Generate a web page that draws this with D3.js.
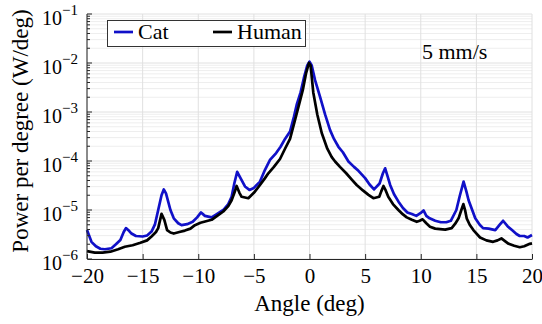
<!DOCTYPE html>
<html>
<head>
<meta charset="utf-8">
<script src="https://cdn.jsdelivr.net/npm/d3@7"></script>
<style>
    body { margin: 0; background: #fff; }
    svg { display: block; font-family: "Liberation Serif", "Times New Roman", serif; }
</style>
</head>
<body>
<svg id="powerChart"></svg>
<script>
var catAngle = [-20, -19.6, -19.2, -18.8, -18.4, -17.8, -17.4, -17.0, -16.7, -16.5, -16.2, -16.0, -15.6, -15.0, -14.6, -14.2, -13.9, -13.6, -13.3, -13.1,
    -12.9, -12.5, -12.2, -11.8, -11.5, -11.0, -10.5, -10.1, -9.75, -9.4, -8.8, -8.3, -7.75, -7.3, -7.0, -6.75, -6.5, -6.2, -5.8, -5.4,
    -5.0, -4.45, -4.0, -3.55, -3.0, -2.6, -2.2, -1.75, -1.4, -1.15, -0.8, -0.5, -0.2, 0, 0.2, 0.5, 0.95, 1.4, 1.85, 2.2,
    2.6, 3.0, 3.5, 4.0, 4.4, 5.0, 5.4, 5.8, 6.3, 6.6, 6.8, 7.0, 7.25, 7.6, 8.0, 8.4, 8.8, 9.2, 9.6, 10.0,
    10.25, 10.5, 10.8, 11.3, 11.8, 12.3, 12.7, 13.2, 13.5, 13.85, 14.1, 14.3, 14.9, 15.3, 15.6, 16.1, 16.7, 17.1, 17.4, 17.8,
    18.2, 18.6, 18.9, 19.3, 19.6, 20];
var catPower = [3.89e-6, 2.24e-6, 1.82e-6, 1.62e-6, 1.58e-6, 1.66e-6, 2.0e-6, 2.45e-6, 3.55e-6, 4.27e-6, 3.72e-6, 3.31e-6, 2.95e-6, 2.88e-6, 3.02e-6, 3.63e-6, 5.01e-6, 1.0e-5, 2.0e-5, 2.63e-5,
    2.19e-5, 1.0e-5, 6.76e-6, 5.37e-6, 4.90e-6, 5.13e-6, 5.75e-6, 7.08e-6, 8.91e-6, 7.59e-6, 7.08e-6, 8.32e-6, 1.0e-5, 1.32e-5, 1.86e-5, 3.55e-5, 6.03e-5, 4.47e-5, 3.02e-5, 2.57e-5,
    2.82e-5, 3.80e-5, 6.61e-5, 1.05e-4, 1.45e-4, 1.95e-4, 2.82e-4, 3.98e-4, 7.94e-4, 1.41e-3, 2.51e-3, 5.01e-3, 8.91e-3, 1.07e-2, 8.91e-3, 4.47e-3, 2.04e-3, 8.91e-4, 4.27e-4, 2.82e-4,
    1.95e-4, 1.51e-4, 9.77e-5, 7.59e-5, 6.31e-5, 4.47e-5, 3.31e-5, 2.63e-5, 3.47e-5, 5.62e-5, 7.08e-5, 5.01e-5, 3.24e-5, 2.09e-5, 1.48e-5, 1.10e-5, 8.91e-6, 8.32e-6, 7.59e-6, 8.71e-6,
    9.77e-6, 7.59e-6, 6.76e-6, 6.03e-6, 5.62e-6, 5.62e-6, 6.03e-6, 1.0e-5, 1.91e-5, 3.80e-5, 2.40e-5, 1.58e-5, 6.76e-6, 5.01e-6, 4.27e-6, 4.17e-6, 3.89e-6, 5.01e-6, 6.03e-6, 4.68e-6,
    3.89e-6, 3.24e-6, 2.95e-6, 2.95e-6, 2.75e-6, 3.09e-6];

var humanAngle = [-20, -19.3, -18.6, -17.9, -17.2, -16.6, -15.9, -15.2, -14.6, -14.2, -13.8, -13.6, -13.3, -13.05, -12.8, -12.5, -12.2, -11.7, -11.2, -10.7,
    -10.3, -9.8, -9.3, -8.8, -8.3, -7.75, -7.3, -7.0, -6.75, -6.55, -6.3, -6.1, -5.5, -5.0, -4.45, -4.0, -3.7, -3.2, -2.65, -2.2,
    -1.75, -1.4, -1.0, -0.6, -0.3, -0.05, 0.1, 0.34, 0.7, 1.1, 1.6, 2.0, 2.3, 2.74, 3.3, 3.8, 4.24, 4.8, 5.3, 5.74,
    6.27, 6.45, 6.65, 6.85, 7.08, 7.5, 7.99, 8.4, 8.74, 9.2, 9.64, 9.9, 10.17, 10.5, 10.83, 11.3, 11.73, 12.2, 12.78, 13.1,
    13.4, 13.65, 13.83, 14.0, 14.13, 14.4, 14.73, 15.33, 15.9, 16.5, 16.9, 17.25, 17.6, 17.9, 18.4, 18.9, 19.3, 19.8, 20];
var humanPower = [1.45e-6, 1.35e-6, 1.35e-6, 1.41e-6, 1.58e-6, 1.78e-6, 1.91e-6, 2.14e-6, 2.40e-6, 2.88e-6, 3.55e-6, 4.27e-6, 8.32e-6, 6.31e-6, 3.89e-6, 3.47e-6, 3.31e-6, 3.55e-6, 3.80e-6, 4.17e-6,
    4.90e-6, 5.50e-6, 5.89e-6, 6.31e-6, 7.59e-6, 9.33e-6, 1.20e-5, 1.58e-5, 2.24e-5, 3.09e-5, 2.24e-5, 1.86e-5, 1.74e-5, 2.24e-5, 3.24e-5, 4.47e-5, 5.62e-5, 7.59e-5, 1.10e-4, 1.78e-4,
    2.82e-4, 5.62e-4, 1.26e-3, 2.82e-3, 6.31e-3, 1.0e-2, 8.91e-3, 2.51e-3, 8.91e-4, 3.72e-4, 1.78e-4, 1.20e-4, 9.77e-5, 7.59e-5, 5.62e-5, 4.17e-5, 3.24e-5, 2.51e-5, 2.04e-5, 1.74e-5,
    1.86e-5, 2.40e-5, 3.09e-5, 2.51e-5, 1.86e-5, 1.32e-5, 1.0e-5, 8.13e-6, 7.08e-6, 6.31e-6, 5.75e-6, 6.03e-6, 6.46e-6, 5.37e-6, 4.57e-6, 4.17e-6, 4.07e-6, 3.98e-6, 4.27e-6, 5.25e-6,
    6.76e-6, 1.0e-5, 1.32e-5, 9.55e-6, 6.76e-6, 5.01e-6, 3.89e-6, 2.75e-6, 2.40e-6, 2.24e-6, 2.40e-6, 2.63e-6, 2.29e-6, 2.04e-6, 1.86e-6, 1.74e-6, 1.82e-6, 2.04e-6, 2.09e-6];

var xTicks = [-20, -15, -10, -5, 0, 5, 10, 15, 20];
var yExponents = [-6, -5, -4, -3, -2, -1];

var seriesNames = ["Cat", "Human"];
var seriesColors = ["#1010c8", "#000000"];

drawPowerChart('#powerChart');

function drawPowerChart(svgElementID) {
    var width = 542, height = 324;
    var margin = { top: 14, right: 10, bottom: 65, left: 87 };
    var plotW = width - margin.left - margin.right;
    var plotH = height - margin.top - margin.bottom;
    var axisColor = "#262626";

    var x = d3.scaleLinear().domain([-20, 20]).range([0, plotW]);
    var y = d3.scaleLog().domain([1e-6, 1e-1]).range([plotH, 0]);

    var svg = d3.select(svgElementID)
        .attr("width", width)
        .attr("height", height);

    var g = svg.append("g")
        .attr("transform", "translate(" + margin.left + "," + margin.top + ")");

    // grid ----------------------------------------------------
    var minorVals = [];
    yExponents.slice(0, -1).forEach(function (e) {
        for (var k = 2; k <= 9; k++) minorVals.push(k * Math.pow(10, e));
    });

    g.append("g").selectAll("line")
        .data(minorVals)
        .enter().append("line")
        .attr("x1", 0).attr("x2", plotW)
        .attr("y1", function (d) { return y(d); })
        .attr("y2", function (d) { return y(d); })
        .attr("stroke", "#eeeeee")
        .attr("stroke-width", 1);

    g.append("g").selectAll("line")
        .data(yExponents)
        .enter().append("line")
        .attr("x1", 0).attr("x2", plotW)
        .attr("y1", function (d) { return y(Math.pow(10, d)); })
        .attr("y2", function (d) { return y(Math.pow(10, d)); })
        .attr("stroke", "#e0e0e0")
        .attr("stroke-width", 1);

    g.append("g").selectAll("line")
        .data(xTicks)
        .enter().append("line")
        .attr("x1", function (d) { return x(d); })
        .attr("x2", function (d) { return x(d); })
        .attr("y1", 0).attr("y2", plotH)
        .attr("stroke", "#e0e0e0")
        .attr("stroke-width", 1);

    // lines ---------------------------------------------------
    var line = d3.line()
        .x(function (d) { return x(d[0]); })
        .y(function (d) { return y(d[1]); });

    var seriesData = [d3.zip(catAngle, catPower), d3.zip(humanAngle, humanPower)];

    seriesData.forEach(function (pts, i) {
        g.append("path")
            .attr("d", line(pts))
            .attr("fill", "none")
            .attr("stroke", seriesColors[i])
            .attr("stroke-width", 2.7)
            .attr("stroke-linejoin", "round");
    });

    // axes ----------------------------------------------------
    var xAxis = g.append("g")
        .attr("transform", "translate(0," + plotH + ")")
        .call(d3.axisBottom(x).tickValues(xTicks).tickSizeInner(-5).tickSizeOuter(0).tickPadding(9)
            .tickFormat(function (d) { return d < 0 ? "\u2212" + Math.abs(d) : d; }));
    xAxis.select(".domain").attr("stroke", axisColor);
    xAxis.selectAll(".tick line").attr("stroke", axisColor);
    xAxis.selectAll("text")
        .attr("fill", "#000")
        .style("font-family", "Liberation Serif")
        .style("font-size", "21px");

    var yAxisG = g.append("g");
    yAxisG.append("line")
        .attr("x1", 0).attr("x2", 0).attr("y1", 0).attr("y2", plotH)
        .attr("stroke", axisColor);

    yAxisG.selectAll(".minor")
        .data(minorVals)
        .enter().append("line")
        .attr("x1", 0).attr("x2", 3)
        .attr("y1", function (d) { return y(d); })
        .attr("y2", function (d) { return y(d); })
        .attr("stroke", axisColor);

    yAxisG.selectAll(".major")
        .data(yExponents)
        .enter().append("line")
        .attr("x1", 0).attr("x2", 5)
        .attr("y1", function (d) { return y(Math.pow(10, d)); })
        .attr("y2", function (d) { return y(Math.pow(10, d)); })
        .attr("stroke", axisColor);

    var yLabels = yAxisG.selectAll(".ylab")
        .data(yExponents)
        .enter().append("text")
        .attr("x", -9)
        .attr("y", function (d) { return y(Math.pow(10, d)) + 11; })
        .attr("text-anchor", "end")
        .style("font-size", "20px");
    yLabels.append("tspan").text("10");
    yLabels.append("tspan")
        .attr("dy", -10)
        .style("font-size", "15px")
        .text(function (d) { return "\u2212" + Math.abs(d); });

    // titles --------------------------------------------------
    svg.append("text")
        .attr("x", margin.left + plotW / 2)
        .attr("y", 311)
        .attr("text-anchor", "middle")
        .style("font-size", "23px")
        .text("Angle (deg)");

    svg.append("text")
        .attr("transform", "translate(28," + 131 + ") rotate(-90)")
        .attr("text-anchor", "middle")
        .style("font-size", "23px")
        .text("Power per degree (W/deg)");

    svg.append("text")
        .attr("x", 422)
        .attr("y", 59)
        .style("font-size", "22px")
        .text("5 mm/s");

    // legend --------------------------------------------------
    var legend = svg.append("g");
    legend.append("rect")
        .attr("x", 107.5).attr("y", 20.5)
        .attr("width", 198).attr("height", 26)
        .attr("fill", "#fff")
        .attr("stroke", "#333")
        .attr("stroke-width", 1);

    var legendX = [114, 213];
    seriesNames.forEach(function (name, i) {
        legend.append("line")
            .attr("x1", legendX[i]).attr("x2", legendX[i] + 19)
            .attr("y1", 32).attr("y2", 32)
            .attr("stroke", seriesColors[i])
            .attr("stroke-width", 2.7);
        legend.append("text")
            .attr("x", legendX[i] + 24)
            .attr("y", 39)
            .style("font-size", "22px")
            .text(name);
    });
}
</script>
</body>
</html>
